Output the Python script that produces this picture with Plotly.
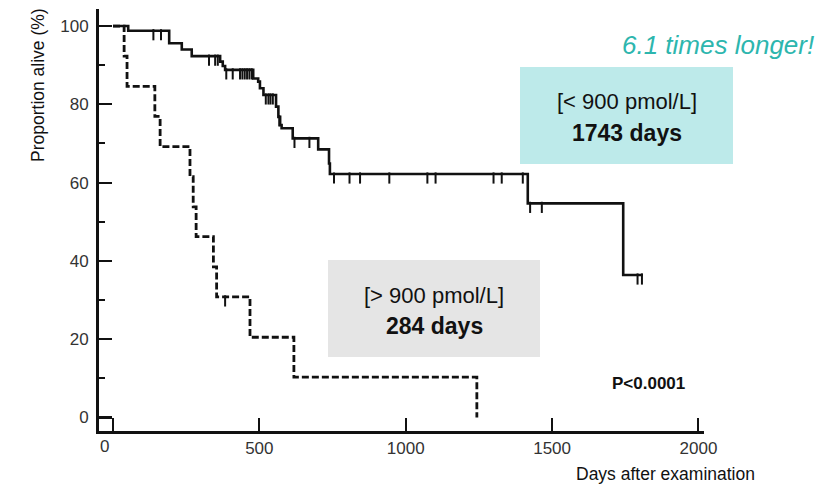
import plotly.graph_objects as go

# ---------------- data ----------------
low_days = [0, 52, 192, 235, 269, 366, 375, 383, 479, 496, 502, 514, 557, 565, 571,
            576, 614, 701, 738, 741, 1417, 1743, 1810]
low_surv = [100, 98.8, 95.6, 94.0, 92.3, 90.9, 89.8, 88.8, 86.6, 85.8, 84.1, 82.4, 79.4,
            76.8, 74.7, 73.9, 71.3, 68.5, 64.9, 62.2, 54.7, 36.4, 36.4]
low_cens_days = [138, 164, 328, 349, 358, 387, 409, 434, 442, 450, 458, 466, 474,
                 522, 531, 538, 546, 568, 620, 671, 755, 808, 844, 944, 1074, 1102,
                 1300, 1328, 1400, 1425, 1465, 1792, 1807]
low_cens_surv = [98.8, 98.8, 92.3, 92.3, 92.3, 88.8, 88.8, 88.8, 88.8, 88.8, 88.8, 88.8,
                 88.8, 82.4, 82.4, 82.4, 82.4, 76.8, 71.3, 71.3, 62.2, 62.2, 62.2, 62.2,
                 62.2, 62.2, 62.2, 62.2, 62.2, 54.7, 54.7, 36.4, 36.4]

high_days = [0, 38, 48, 143, 161, 263, 274, 284, 343, 354, 468, 618, 1243]
high_surv = [100, 92.3, 84.6, 76.9, 69.2, 61.5, 53.8, 46.2, 38.5, 30.8, 20.5, 10.3, 0]
high_cens_days = [383]
high_cens_surv = [30.8]

x_tickvals = [0, 500, 1000, 1500, 2000]
x_ticktext = ["", "500", "1000", "1500", "2000"]
y_tickvals = [0, 20, 40, 60, 80, 100]

# ---------------- layout geometry ----------------
W, H = 825, 485
L, R, T, B = 99, 121, 9, 54
PW, PH = W - L - R, H - T - B
XR = [-47.8, 2019.0]
YR = [-3.45, 104.35]
px_per_unit = PH / (YR[1] - YR[0])
tick_off = 4.0 / px_per_unit  # censor tick hangs below the curve

FONT = "Liberation Sans, Arial, sans-serif"


def P(x, y):
    return (x - L) / PW, (H - B - y) / PH


fig = go.Figure()

fig.add_trace(go.Scatter(x=low_days, y=low_surv, mode="lines", line_shape="hv",
                         line=dict(color="#111", width=2.6), hoverinfo="skip",
                         showlegend=False))
fig.add_trace(go.Scatter(x=high_days, y=high_surv, mode="lines", line_shape="hv",
                         line=dict(color="#111", width=2.8, dash="7px,3px"),
                         hoverinfo="skip", showlegend=False))
fig.add_trace(go.Scatter(x=low_cens_days, y=[v - tick_off for v in low_cens_surv],
                         mode="markers",
                         marker=dict(symbol="line-ns", size=8,
                                     line=dict(color="#111", width=2)),
                         hoverinfo="skip", showlegend=False))
fig.add_trace(go.Scatter(x=high_cens_days, y=[v - tick_off for v in high_cens_surv],
                         mode="markers",
                         marker=dict(symbol="line-ns", size=8,
                                     line=dict(color="#111", width=2)),
                         hoverinfo="skip", showlegend=False))

shapes = []
x0, y0 = P(520, 164)
x1, y1 = P(733, 67)
shapes.append(dict(type="rect", xref="paper", yref="paper", x0=x0, y0=y0, x1=x1, y1=y1,
                   fillcolor="#bdeaea", line=dict(width=0), layer="below"))
x0, y0 = P(328, 357)
x1, y1 = P(540, 260)
shapes.append(dict(type="rect", xref="paper", yref="paper", x0=x0, y0=y0, x1=x1, y1=y1,
                   fillcolor="#e5e5e5", line=dict(width=0), layer="below"))

ann = []


def add_text(x, y, text, size, color="#111", xanchor="center", family=FONT,
             angle=0, yanchor="middle"):
    ax, ay = P(x, y)
    ann.append(dict(xref="paper", yref="paper", x=ax, y=ay, text=text, showarrow=False,
                    xanchor=xanchor, yanchor=yanchor, textangle=angle,
                    font=dict(family=family, size=size, color=color)))


add_text(816, 45, "<i>6.1 times longer!</i>", 26, color="#2db6ae", xanchor="right")
add_text(627, 101, "[< 900 pmol/L]", 22)
add_text(627, 133, "<b>1743 days</b>", 23)
add_text(434, 295, "[> 900 pmol/L]", 22)
add_text(434, 326, "<b>284 days</b>", 23)
add_text(648, 383, "<b>P<0.0001</b>", 17)
add_text(104, 446, "0", 17, color="#333")
add_text(38, 85, "Proportion alive (%)", 17.5, angle=-90)
add_text(665, 474, "Days after examination", 17.5)

fig.update_layout(
    width=W, height=H, margin=dict(l=L, r=R, t=T, b=B),
    paper_bgcolor="white", plot_bgcolor="white",
    shapes=shapes, annotations=ann, showlegend=False,
    xaxis=dict(range=XR, showgrid=False, zeroline=False, showline=True,
               linecolor="#111", linewidth=2.6, ticks="inside", ticklen=13,
               tickwidth=2, tickcolor="#111", tickvals=x_tickvals,
               ticktext=x_ticktext, tickfont=dict(family=FONT, size=17, color="#333"),
               ticklabelstandoff=0, fixedrange=True),
    yaxis=dict(range=YR, showgrid=False, zeroline=False, showline=True,
               linecolor="#111", linewidth=3, ticks="inside", ticklen=13,
               tickwidth=2.2, tickcolor="#111", tickvals=y_tickvals,
               tickfont=dict(family=FONT, size=17, color="#333"),
               ticklabelstandoff=4,
               minor=dict(dtick=10, tick0=0, ticks="inside", ticklen=6,
                          tickwidth=2, tickcolor="#111"),
               fixedrange=True),
)

fig.write_html("out.html",
               config={"displayModeBar": False, "staticPlot": True},
               post_script="document.body.style.margin='0';"
                           "document.body.style.overflow='hidden';")
